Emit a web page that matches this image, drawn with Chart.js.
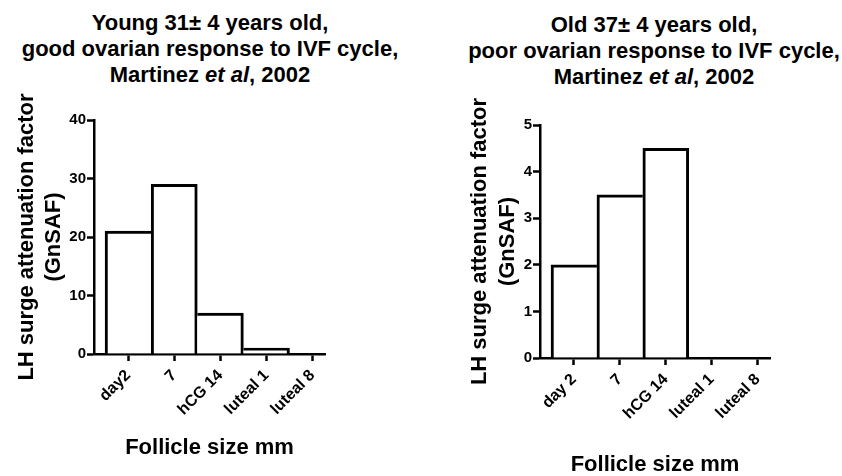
<!DOCTYPE html>
<html>
<head>
<meta charset="utf-8">
<script src="https://cdn.jsdelivr.net/npm/chart.js@4.4.1/dist/chart.umd.min.js"></script>
<style>
  body { margin: 0; background: #fff; width: 842px; height: 476px; overflow: hidden; position: relative; font-family: "Liberation Sans", Arial, sans-serif; }
  canvas { position: absolute; top: 0; }
  .title { position: absolute; top: 10px; transform: translateX(-50%); white-space: nowrap; text-align: center; font-weight: bold; font-size: 22px; line-height: 26px; color: #000; }
</style>
</head>
<body>
<div class="title" style="left:210px">Young 31&plusmn; 4 years old,<br>good ovarian response to IVF cycle,<br>Martinez <i>et al</i>, 2002</div>
<div class="title" style="left:654px;top:12px">Old 37&plusmn; 4 years old,<br>poor ovarian response to IVF cycle,<br>Martinez <i>et al</i>, 2002</div>
<canvas id="young" width="421" height="476" style="left:0"></canvas>
<canvas id="old" width="421" height="476" style="left:421px"></canvas>
<script>
// values
const youngLabels = ['day2', '7', 'hCG 14', 'luteal 1', 'luteal 8'];
const youngValues = [21, 29, 7, 1, 0];
const youngTicks = [0, 10, 20, 30, 40];

const oldLabels = ['day 2', '7', 'hCG 14', 'luteal 1', 'luteal 8'];
const oldValues = [2, 3.5, 4.5, 0, 0];
const oldTicks = [0, 1, 2, 3, 4, 5];

Chart.defaults.font.family = '"Liberation Sans", Arial, sans-serif';
Chart.defaults.color = '#000';

const axisGrid = { offset: false, drawOnChartArea: false, drawTicks: true, tickLength: 7, tickWidth: 2.5, tickColor: '#000' };
const axisBorder = { color: '#000', width: 2.5 };

function makeChart(id, labels, values, yTicks, box) {
  // shared edges between bars are drawn once, by the taller bar
  const edges = (c) => {
    const i = c.dataIndex, v = values[i];
    return {
      top: 3,
      left: (i === 0 || values[i - 1] < v) ? 3 : 0,
      right: (i === values.length - 1 || values[i + 1] <= v) ? 3 : 0,
      bottom: 0
    };
  };

  new Chart(document.getElementById(id), {
    type: 'bar',
    data: {
      datasets: [{
        data: labels.map((l, i) => ({ x: i, y: values[i] })),
        backgroundColor: '#fff',
        borderColor: '#000',
        borderWidth: edges,
        barPercentage: 1,
        categoryPercentage: 1
      }]
    },
    options: {
      responsive: false,
      animation: false,
      layout: { padding: box.padding },
      plugins: { legend: { display: false }, tooltip: { enabled: false } },
      scales: {
        x: {
          type: 'linear',
          offset: false,
          min: -0.74,
          max: 4.27,
          afterBuildTicks: s => { s.ticks = labels.map((l, i) => ({ value: i })); },
          afterFit: s => { s.height = box.xHeight; },
          grid: axisGrid,
          border: axisBorder,
          ticks: {
            autoSkip: false, minRotation: 45, maxRotation: 45, padding: 5,
            font: { size: 16, weight: 'bold' },
            callback: v => labels[v]
          },
          title: { display: true, text: 'Follicle size mm', padding: 0, font: { size: 22, weight: 'bold', lineHeight: 1 } }
        },
        y: {
          min: 0,
          max: yTicks[yTicks.length - 1],
          afterBuildTicks: s => { s.ticks = yTicks.map(v => ({ value: v })); },
          afterFit: s => { s.width = box.yWidth; },
          grid: axisGrid,
          border: axisBorder,
          ticks: { padding: 1, font: { size: 15, weight: 'bold' } },
          title: {
            display: true,
            text: ['LH surge attenuation factor', '(GnSAF)'],
            padding: 0,
            font: { size: 22, weight: 'bold', lineHeight: 1.27 }
          }
        }
      }
    }
  });
}

makeChart('young', youngLabels, youngValues, youngTicks,
  { padding: { left: 12.5, right: 96, top: 120, bottom: 17 }, yWidth: 81.5, xHeight: 105 });
makeChart('old', oldLabels, oldValues, oldTicks,
  { padding: { left: 45, right: 72, top: 125, bottom: 0 }, yWidth: 74, xHeight: 118 });
</script>
</body>
</html>
